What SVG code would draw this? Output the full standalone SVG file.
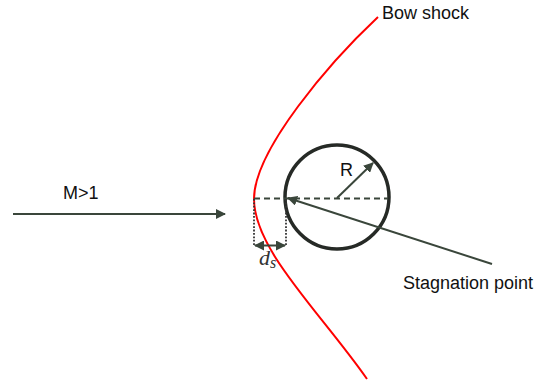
<svg xmlns="http://www.w3.org/2000/svg" width="534" height="381" viewBox="0 0 534 381">
<defs>
<marker id="ah" viewBox="0 0 10 10" refX="9" refY="5" markerWidth="5" markerHeight="5" orient="auto-start-reverse" markerUnits="strokeWidth">
<path d="M0,0 L10,5 L0,10 Z" fill="#3a463b"/>
</marker>
<style>
.lbl{font-family:"Liberation Sans",Arial,sans-serif;font-size:18px;fill:#111}
.ln{stroke:#3a463b;stroke-width:2;fill:none}
.dot{stroke:#333;stroke-width:1.8;stroke-dasharray:1.8,1.6}
</style>
</defs>
<rect width="534" height="381" fill="#fff"/>
<g id="bow-shock">
<path d="M378,17 C330,62 254,150 254,199 C254,250 321,313 367,379" fill="none" stroke="#f00" stroke-width="2"/>
<text class="lbl" x="382" y="19">Bow shock</text>
</g>
<g id="body">
<circle cx="337" cy="197" r="52" fill="none" stroke="#262a26" stroke-width="3.5"/>
<text class="lbl" x="340" y="176">R</text>
</g>
<g id="flow">
<text class="lbl" x="63" y="199">M&gt;1</text>
</g>
<g id="stagnation">
<text class="lbl" x="403" y="289">Stagnation point</text>
</g>
<g id="ds">
<text x="259" y="265" font-family="'Liberation Serif',serif" font-style="italic" font-size="22" fill="#333">d<tspan font-size="16" dy="3">s</tspan></text>
</g>
<g id="connectors">
<line class="ln" x1="13" y1="214" x2="225" y2="214" marker-end="url(#ah)"/>
<line class="ln" x1="254" y1="198.5" x2="388" y2="198.5" stroke-dasharray="6,4"/>
<line class="ln" x1="337" y1="198" x2="373" y2="163" marker-end="url(#ah)"/>
<line class="ln" x1="492" y1="264" x2="288" y2="198" marker-end="url(#ah)"/>
<line class="dot" x1="254" y1="199" x2="254" y2="246"/>
<line class="dot" x1="286" y1="199" x2="286" y2="246"/>
<line class="ln" x1="255" y1="245.5" x2="285" y2="245.5" marker-start="url(#ah)" marker-end="url(#ah)"/>
</g>
</svg>
